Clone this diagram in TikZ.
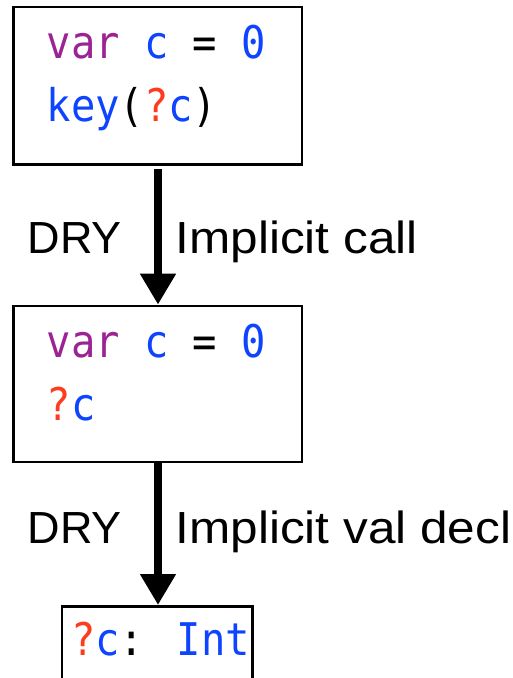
\documentclass[tikz,border=0pt]{standalone}
\usepackage{fontspec}
\usepackage{graphicx}
\usetikzlibrary{arrows.meta}
\setmainfont{Liberation Sans}
\newfontfamily\codefont[FakeStretch=0.9]{DejaVu Sans Mono}
\newfontfamily\labelfont{Liberation Sans}
\newfontfamily\widefont[FakeStretch=1.1]{Liberation Sans}
\definecolor{kwpurple}{HTML}{9B2393}
\definecolor{idblue}{HTML}{0F44FF}
\definecolor{qred}{HTML}{FF3B1E}
\tikzset{
  codebox/.style={draw=black, line width=2.7pt, rectangle, inner sep=0pt, fill=white},
  codeline/.style={anchor=base west, inner sep=0pt, font=\codefont\fontsize{45}{45}\selectfont},
  lbl/.style={inner sep=0pt, font=\labelfont\fontsize{45}{45}\selectfont},
  wlbl/.style={inner sep=0pt, anchor=base west, font=\widefont\fontsize{45}{45}\selectfont},
  bigarrow/.style={line width=8pt, -{Triangle[length=31pt,width=34pt]}}
}
\newcommand{\kw}[1]{\textcolor{kwpurple}{#1}}
\newcommand{\idf}[1]{\textcolor{idblue}{#1}}
\newcommand{\qm}[1]{\textcolor{qred}{#1}}
\begin{document}
\begin{tikzpicture}[x=1pt,y=-1pt]
\useasboundingbox (0,0) rectangle (513,678);
\node[codebox, minimum width=288.5pt, minimum height=157.5pt] (box1) at (157.75,85.75) {};
\node[codebox, minimum width=288.5pt, minimum height=156pt] (box2) at (157.75,384) {};
\node[codebox, minimum width=190.5pt, minimum height=115pt, anchor=north] (box3) at (157.25,605) {};
\node[codeline] (t1a) at (46.5,58) {\kw{var} \idf{c} = \idf{0}};
\node[codeline] (t1b) at (46.5,121) {\idf{key}(\qm{?}\idf{c})};
\node[codeline] (t2a) at (46.5,357) {\kw{var} \idf{c} = \idf{0}};
\node[codeline] (t2b) at (46.5,420) {\qm{?}\idf{c}};
\node[codeline] (t3a) at (71,655) {\qm{?}\idf{c}: \idf{Int}};
\coordinate (a1s) at ([yshift=-3pt]box1.south);
\draw[bigarrow] ([xshift=0.25pt]a1s) -- ([xshift=0.25pt]box2.north);
\draw[bigarrow] ([xshift=0.25pt]box2.south) -- ([xshift=0.25pt]box2.south |- box3.north);
\node[lbl, anchor=base east] (dry1) at (122,253) {DRY};
\node[wlbl] (ic) at (175.5,253) {Implicit call};
\node[lbl, anchor=base east] (dry2) at (122,543) {DRY};
\node[wlbl] (ivd) at (175.5,543) {Implicit val decl};
\end{tikzpicture}
\end{document}
